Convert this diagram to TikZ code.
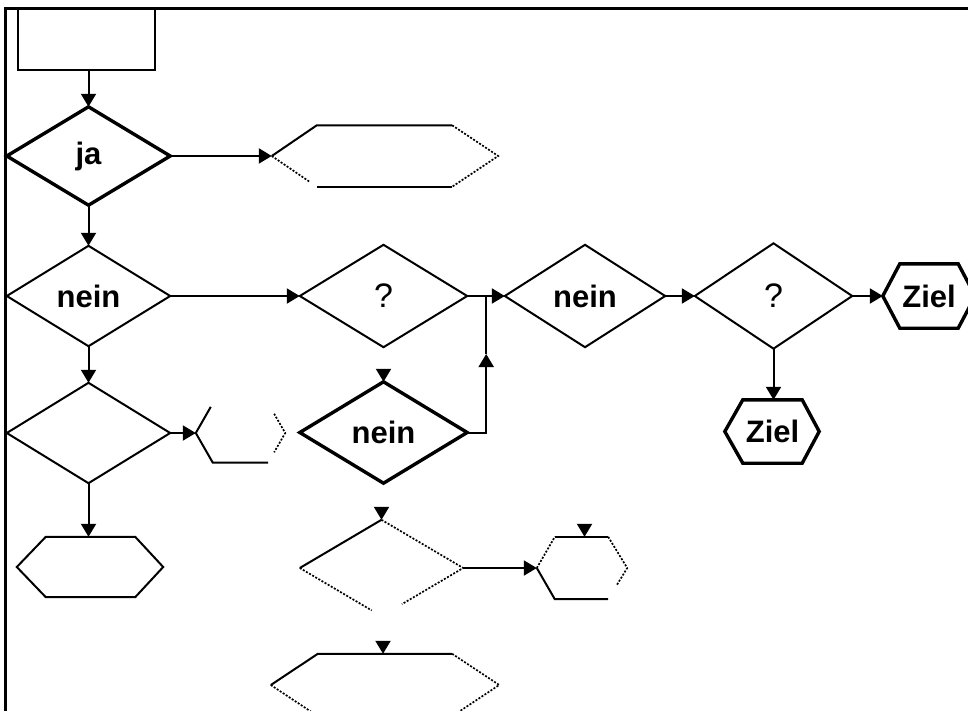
\documentclass[tikz,border=0pt]{standalone}
\usepackage{fontspec}
\setmainfont{Liberation Sans}
\usetikzlibrary{shapes.geometric,arrows.meta,calc}
\begin{document}
\begin{tikzpicture}[x=1pt,y=-1pt,line join=miter,
  plain/.style={line width=2pt},
  heavy/.style={line width=3.4pt},
  faint/.style={line width=1.7pt,dash pattern=on 2pt off 1.6pt},
  label/.style={draw=none,inner sep=0pt,font=\bfseries\fontsize{31}{33}\selectfont},
  dia/.style={label,shape=diamond},
  body/.style={label,shape=rectangle},
  qmark/.style={font=\mdseries\fontsize{34}{36}\selectfont},
  flow/.style={line width=2pt,-{Triangle[width=15pt,length=13pt]}}]
\path[use as bounding box] (0,0) rectangle (968,711);
\clip (0,0) rectangle (968,711);

% frame
\draw[line width=3pt] (968,9) -- (5,9) -- (5,711);

% start box
\node[body,minimum width=137pt,minimum height=61pt] (start) at (86.5,39.5) {};
\draw[plain] (start.north west) rectangle (start.south east);

% decisions
\node[dia,minimum width=163pt,minimum height=98pt]  (ja)     at (88.5,156)   {ja};
\node[dia,minimum width=163pt,minimum height=100pt] (neinA)  at (88.5,296)   {nein};
\node[dia,minimum width=163pt,minimum height=100pt] (leerA)  at (88.5,433)   {};
\node[dia,qmark,minimum width=167pt,minimum height=102pt] (frageA) at (383.5,296)  {?};
\node[dia,minimum width=167pt,minimum height=101pt] (neinB)  at (383.5,432.5){nein};
\node[dia,minimum width=160pt,minimum height=102pt] (neinC)  at (585,296)    {nein};
\node[dia,qmark,minimum width=157pt,minimum height=105pt] (frageB) at (773.5,296)  {?};
\node[dia,minimum width=163pt,minimum height=96pt]  (leerB)  at (381.5,568)  {};

\foreach \d in {ja,neinB}
  \draw[heavy] (\d.west) -- (\d.north) -- (\d.east) -- (\d.south) -- cycle;
\foreach \d in {neinA,leerA,frageA,neinC,frageB}
  \draw[plain] (\d.west) -- (\d.north) -- (\d.east) -- (\d.south) -- cycle;
\draw[plain] (leerB.west) -- (leerB.north);
\draw[faint] (leerB.north) -- (leerB.east) -- ($(leerB.east)!0.75!(leerB.south)$);
\draw[faint] (leerB.west) -- ($(leerB.west)!0.88!(leerB.south)$);

% hexagons: rectangular body plus pointed ends
\node[body,minimum width=135pt,minimum height=61pt] (hexA) at (384.5,156) {};
\coordinate (hexAl) at ($(hexA.west)+(-45,0)$);
\coordinate (hexAr) at ($(hexA.east)+(46,0)$);
\draw[plain] (hexAl) -- (hexA.north west) -- (hexA.north east);
\draw[faint] (hexA.north east) -- (hexAr) -- (hexA.south east);
\draw[plain] (hexA.south east) -- (hexA.south west);
\draw[faint] (hexAl) -- ($(hexAl)!0.85!(hexA.south west)$);

\node[body,minimum width=55pt,minimum height=59pt] (hexB) at (240.5,433) {};
\coordinate (hexBl) at ($(hexB.west)+(-17,0)$);
\coordinate (hexBr) at ($(hexB.east)+(17,0)$);
\draw[plain] ($(hexB.north west)!0.12!(hexBl)$) -- (hexBl) -- (hexB.south west) -- (hexB.south east);
\draw[faint] ($(hexB.north east)!0.35!(hexBr)$) -- (hexBr) -- ($(hexB.south east)!0.35!(hexBr)$);

\node[body,minimum width=89pt,minimum height=60pt] (hexC) at (90.5,567) {};
\coordinate (hexCl) at ($(hexC.west)+(-29,0)$);
\coordinate (hexCr) at ($(hexC.east)+(28,0)$);
\draw[plain] (hexCl) -- (hexC.north west) -- (hexC.north east) -- (hexCr)
  -- (hexC.south east) -- (hexC.south west) -- cycle;

\node[body,minimum width=58pt,minimum height=64pt] (zielA) at (929,296) {Ziel};
\coordinate (zielAl) at ($(zielA.west)+(-17,0)$);
\coordinate (zielAr) at ($(zielA.east)+(17,0)$);
\draw[heavy] (zielAl) -- (zielA.north west) -- (zielA.north east) -- (zielAr)
  -- (zielA.south east) -- (zielA.south west) -- cycle;

\node[body,minimum width=59pt,minimum height=63pt] (zielB) at (772.5,431.5) {Ziel};
\coordinate (zielBl) at ($(zielB.west)+(-18,0)$);
\coordinate (zielBr) at ($(zielB.east)+(17,0)$);
\draw[heavy] (zielBl) -- (zielB.north west) -- (zielB.north east) -- (zielBr)
  -- (zielB.south east) -- (zielB.south west) -- cycle;

\node[body,minimum width=53pt,minimum height=62pt] (hexD) at (581.5,568) {};
\coordinate (hexDl) at ($(hexD.west)+(-18,0)$);
\coordinate (hexDr) at ($(hexD.east)+(19,0)$);
\draw[faint] (hexDl) -- (hexD.north west);
\draw[plain] (hexD.north west) -- (hexD.north east);
\draw[faint] (hexD.north east) -- (hexDr) -- ($(hexDr)!0.55!(hexD.south east)$);
\draw[plain] (hexDl) -- (hexD.south west) -- (hexD.south east);

\node[body,minimum width=134pt,minimum height=62pt] (hexE) at (385,685) {};
\coordinate (hexEl) at ($(hexE.west)+(-47,0)$);
\coordinate (hexEr) at ($(hexE.east)+(47,0)$);
\draw[plain] (hexEl) -- (hexE.north west) -- (hexE.north east);
\draw[faint] (hexE.north east) -- (hexEr) -- (hexE.south east);
\draw[faint] (hexEl) -- (hexE.south west);

% connectors
\draw[flow] (start.south -| ja.north) -- (ja.north);
\draw[flow] (ja.east) -- (hexAl);
\draw[flow] (ja.south) -- (neinA.north);
\draw[flow] (neinA.east) -- (frageA.west);
\draw[flow] (neinA.south) -- (leerA.north);
\draw[flow] (leerA.east) -- (hexBl);
\draw[flow] (leerA.south) -- (leerA.south |- hexC.north);

\coordinate (knot) at ($(frageA.east)+(19,0)$);
\coordinate (rise) at ($(knot)+(0,58)$);
\draw[plain] (frageA.east) -- (knot);
\draw[flow] (knot) -- (neinC.west);
\draw[flow] (neinB.east) -- (neinB.east -| knot) -- (rise);
\draw[plain] (rise) -- (knot);

\draw[flow] (neinC.east) -- (frageB.west);
\draw[flow] (frageB.east) -- (zielAl);
\draw[flow] (frageB.south) -- (frageB.south |- zielB.north);
\draw[flow] (leerB.east) -- (hexDl);

% loose arrow tips
\coordinate (tipB) at ($(neinB.north)+(0,-13)$);
\coordinate (tipL) at ($(leerB.north)+(0,-13)$);
\coordinate (tipD) at ($(hexD.north)+(3,-13)$);
\coordinate (tipE) at ($(hexE.north)+(-2,-13)$);
\draw[flow] (tipB) -- (neinB.north);
\draw[flow] (tipL) -- (leerB.north);
\draw[flow] (tipD) -- ++(0,13);
\draw[flow] (tipE) -- ++(0,13);
\end{tikzpicture}
\end{document}
